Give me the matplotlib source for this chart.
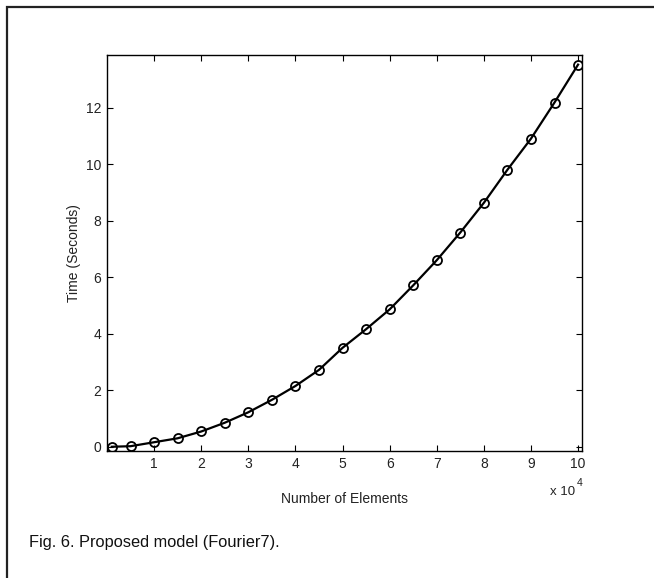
import matplotlib
matplotlib.use("Agg")
import matplotlib.pyplot as plt
from matplotlib.patches import Rectangle
from matplotlib.ticker import FuncFormatter

# number of elements and measured run time
n_elements = [1000, 5000, 10000, 15000, 20000, 25000, 30000, 35000, 40000,
              45000, 50000, 55000, 60000, 65000, 70000, 75000, 80000, 85000,
              90000, 95000, 100000]
time_sec = [0.0, 0.02, 0.16, 0.30, 0.54, 0.85, 1.22, 1.66, 2.15, 2.72,
            3.50, 4.16, 4.86, 5.71, 6.60, 7.58, 8.63, 9.80, 10.90, 12.18,
            13.52]
x_ticks = [10000, 20000, 30000, 40000, 50000, 60000, 70000, 80000, 90000, 100000]
y_ticks = [0, 2, 4, 6, 8, 10, 12]
caption = "Fig. 6. Proposed model (Fourier7)."

plt.rcParams["font.family"] = ["Liberation Sans", "DejaVu Sans"]

fig = plt.figure(figsize=(6.54, 5.78), dpi=100)
W, H = 654, 578

# outer frame of the figure box (runs off the right/bottom edges)
fig.patches.append(Rectangle((7 / W, -0.05), 1.1, 1 - 7 / H + 0.05,
                             transform=fig.transFigure, fill=False,
                             edgecolor="#222222", linewidth=1.6))

ax = fig.add_axes([107 / W, 1 - 451 / H, (582.3 - 107) / W, (451 - 55.3) / H])
ax.plot(n_elements, time_sec, color="black", linewidth=1.6, marker="o",
        markersize=6.5, markerfacecolor="none", markeredgecolor="black",
        markeredgewidth=1.3)

ax.set_xlim(0, 100900)
ax.set_ylim(-0.15, 13.85)
ax.set_xticks(x_ticks)
ax.set_yticks(y_ticks)
ax.xaxis.set_major_formatter(FuncFormatter(lambda v, p: f"{v / 1e4:g}"))
ax.tick_params(direction="in", length=4, width=0.8, top=True, right=True,
               labelsize=10, labelcolor="#222222", pad=4)
for s in ax.spines.values():
    s.set_linewidth(1.0)

ax.set_xlabel("Number of Elements", fontsize=10, color="#222222", labelpad=15.5)
ax.set_ylabel("Time (Seconds)", fontsize=10, color="#222222", labelpad=3.5)

fig.text(563 / W, 1 - 492 / H, "x 10", fontsize=9.5, color="#222222",
         ha="center", va="center")
fig.text(580 / W, 1 - 483 / H, "4", fontsize=7.5, color="#222222",
         ha="center", va="center")

fig.text(29 / W, 1 - 542 / H, caption, fontsize=11.8, color="#111111",
         ha="left", va="center")

fig.savefig("out.png", dpi=100)
